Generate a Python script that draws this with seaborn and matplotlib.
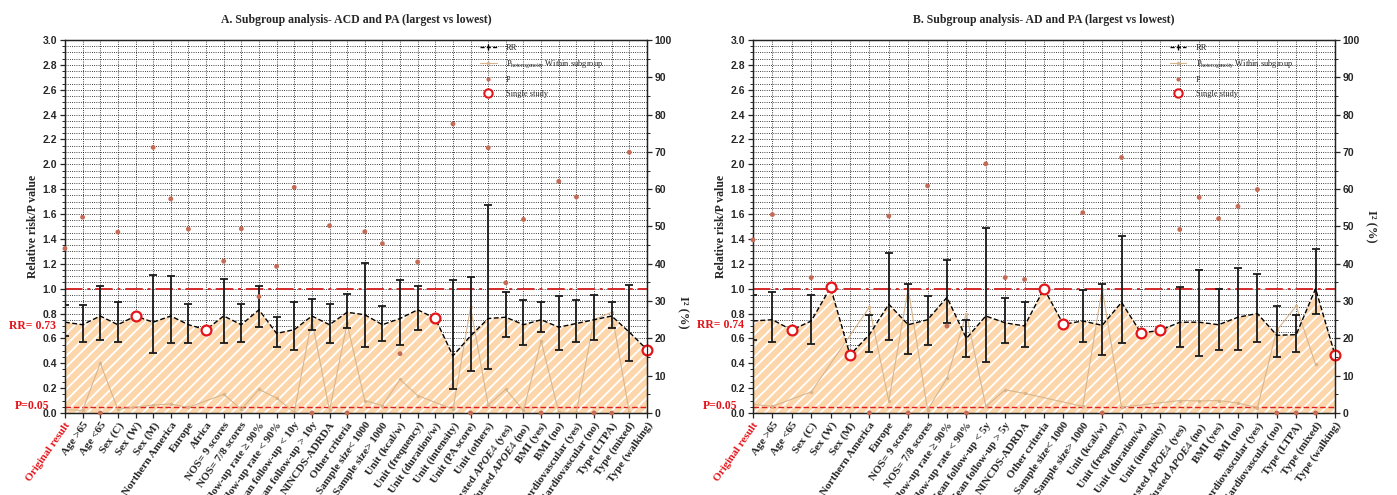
import matplotlib
matplotlib.use('Agg')
import matplotlib.pyplot as plt
import matplotlib.ticker as mticker
import matplotlib.transforms as mtrans
from matplotlib.lines import Line2D
import seaborn as sns
import numpy as np
import pandas as pd

sns.set_style('ticks')
plt.rcParams['font.family'] = ['Liberation Serif', 'DejaVu Serif']
plt.rcParams['mathtext.fontset'] = 'custom'
plt.rcParams['mathtext.rm'] = 'Liberation Serif'
plt.rcParams['mathtext.it'] = 'Liberation Serif:italic:bold'
plt.rcParams['hatch.linewidth'] = 1.3

nan = np.nan

# ---- Panel A: ACD and PA ----
labels_a = ['Original result', 'Age >65', 'Age <65', 'Sex (C)', 'Sex (W)', 'Sex (M)',
            'Northern America', 'Europe', 'Africa', 'NOS= 9 scores', 'NOS= 7/8 scores',
            'Follow-up rate ≥ 90%', 'Follow-up rate < 90%', 'Mean follow-up < 10y',
            'Mean follow-up > 10y', 'NINCDS-ADRDA', 'Other criteria', 'Sample size< 1000',
            'Sample size> 1000', 'Unit (kcal/w)', 'Unit (frequency)', 'Unit (duration/w)',
            'Unit (intensity)', 'Unit (PA score)', 'Unit (others)',
            'Adjusted $\\mathit{APOE4}$ (yes)', 'Adjusted $\\mathit{APOE4}$ (no)',
            'BMI (yes)', 'BMI (no)', 'Cardiovascular (yes)', 'Cardiovascular (no)',
            'Type (LTPA)', 'Type (mixed)', 'Type (walking)']
rr_a = [0.73, 0.71, 0.78, 0.71, 0.78, 0.73, 0.78, 0.71, 0.67, 0.78, 0.71, 0.83, 0.64, 0.67,
        0.78, 0.71, 0.81, 0.79, 0.71, 0.76, 0.83, 0.76, 0.46, 0.62, 0.76, 0.77, 0.71, 0.75,
        0.69, 0.72, 0.75, 0.78, 0.65, 0.51]
lo_a = [0.62, 0.57, 0.59, 0.57, nan, 0.48, 0.56, 0.56, nan, 0.56, 0.57, 0.69, 0.53, 0.51,
        0.67, 0.56, 0.68, 0.53, 0.58, 0.55, 0.67, nan, 0.19, 0.34, 0.35, 0.61, 0.55, 0.65,
        0.51, 0.57, 0.59, 0.68, 0.42, nan]
hi_a = [0.87, 0.87, 1.02, 0.89, nan, 1.11, 1.10, 0.88, nan, 1.08, 0.88, 1.02, 0.77, 0.89,
        0.92, 0.88, 0.955, 1.21, 0.86, 1.07, 1.02, nan, 1.07, 1.09, 1.67, 0.97, 0.91, 0.89,
        0.94, 0.91, 0.95, 0.89, 1.03, nan]
p_a = [0.027, 0.02, 0.40, 0.03, nan, 0.064, 0.072, 0.045, nan, 0.15, 0.03, 0.19, 0.12, 0.005,
       0.75, 0.02, 0.72, 0.10, 0.06, 0.27, 0.14, nan, 0.03, 0.85, 0.064, 0.19, 0.02, 0.58,
       0.005, 0.005, 0.75, 0.81, 0.005, nan]
i2_a = [44.1, 52.5, 0, 48.5, nan, 71.2, 57.4, 49.3, nan, 40.7, 49.4, 31.2, 39.3, 60.5, 0, 50.2,
        0, 48.6, 45.4, 15.9, 40.5, nan, 77.5, 0, 71.1, 34.9, 51.9, 0, 62.1, 57.9, 0, 0, 69.9, nan]

# ---- Panel B: AD and PA ----
labels_b = ['Original result', 'Age >65', 'Age <65', 'Sex (C)', 'Sex (W)', 'Sex (M)',
            'Northern America', 'Europe', 'NOS= 9 scores', 'NOS= 7/8 scores',
            'Follow-up rate ≥ 90%', 'Follow-up rate < 90%', 'Mean follow-up < 5y',
            'Mean follow-up > 5y', 'NINCDS-ADRDA', 'Other criteria', 'Sample size< 1000',
            'Sample size> 1000', 'Unit (kcal/w)', 'Unit (frequency)', 'Unit (duration/w)',
            'Unit (intensity)', 'Adjusted $\\mathit{APOE4}$ (yes)', 'Adjusted $\\mathit{APOE4}$ (no)',
            'BMI (yes)', 'BMI (no)', 'Cardiovascular (yes)', 'Cardiovascular (no)',
            'Type (LTPA)', 'Type (mixed)', 'Type (walking)']
rr_b = [0.74, 0.75, 0.667, 0.74, 1.01, 0.467, 0.63, 0.875, 0.71, 0.75, 0.93, 0.60, 0.78, 0.725,
        0.70, 1.0, 0.713, 0.74, 0.705, 0.89, 0.643, 0.665, 0.73, 0.73, 0.71, 0.77, 0.80, 0.625,
        0.63, 1.0, 0.467]
lo_b = [0.587, 0.57, nan, 0.555, nan, nan, 0.49, 0.59, 0.475, 0.547, 0.72, 0.45, 0.41, 0.565,
        0.53, nan, nan, 0.57, 0.47, 0.56, nan, nan, 0.53, 0.46, 0.51, 0.51, 0.57, 0.45, 0.49,
        0.80, nan]
hi_b = [0.947, 0.97, nan, 0.947, nan, nan, 0.79, 1.29, 1.04, 0.94, 1.23, 0.75, 1.49, 0.925,
        0.89, nan, nan, 0.987, 1.04, 1.42, nan, nan, 1.01, 1.15, 0.995, 1.17, 1.12, 0.86, 0.79,
        1.32, nan]
p_b = [0.07, 0.053, nan, 0.17, nan, nan, 0.85, 0.097, 1.0, 0.025, 0.28, 0.80, 0.053, 0.186,
       0.158, nan, nan, 0.053, 1.0, 0.047, nan, nan, 0.10, 0.097, 0.10, 0.08, 0.042, 0.665,
       0.86, 0.39, nan]
i2_b = [46.4, 53.2, nan, 36.3, nan, nan, 0, 52.8, 0, 60.9, 23.3, 0, 66.8, 36.3, 35.8, nan, nan,
        53.7, 0, 68.5, nan, nan, 49.2, 57.8, 52.1, 55.4, 59.9, 0, 0, 0, nan]

RED = '#e3151a'
TAN = '#d9b58c'
BROWN = '#c46a55'
FILL = '#fdd7ab'


def style_ticklabels(labels, size):
    for t in labels:
        t.set_fontfamily('Liberation Sans')
        t.set_fontweight('bold')
        t.set_fontsize(size)


def draw_panel(ax, title, labels, rr, lo, hi, p, i2, rr_note, legend_x, i2_label_y):
    n = len(labels)
    df = pd.DataFrame({'pos': np.arange(n), 'rr': rr, 'lo': lo, 'hi': hi, 'p': p, 'i2': i2})
    df['single'] = df['lo'].isna()

    # area under pooled RR
    ax.fill_between(df['pos'], 0, df['rr'], facecolor=FILL, edgecolor='white',
                    hatch='///', linewidth=0, zorder=1)
    ax.axhline(1.0, color='#d42a2a', linewidth=1.4, linestyle=(0, (9, 2.5, 1.5, 2.5)), zorder=2)
    ax.axhline(0.05, color='#e02020', linewidth=1.0, linestyle=(0, (4, 2)), zorder=2)

    # P heterogeneity
    sns.lineplot(data=df.dropna(subset=['p']), x='pos', y='p', ax=ax, color=TAN,
                 linewidth=0.8, marker='o', markersize=2.5, markeredgewidth=0, zorder=3)

    # RR with CI
    err = df[~df['single']]
    ax.errorbar(err['pos'], err['rr'], yerr=[err['rr'] - err['lo'], err['hi'] - err['rr']],
                fmt='none', ecolor='#1a1a1a', elinewidth=1.3, capsize=3, capthick=1.3, zorder=4)
    sns.lineplot(data=df, x='pos', y='rr', ax=ax, color='black', linewidth=1.0,
                 linestyle=(0, (3.5, 1.8)), zorder=5)
    sns.scatterplot(data=df[df['single']], x='pos', y='rr', ax=ax, s=50, color='white',
                    edgecolor=RED, linewidth=1.6, zorder=6, clip_on=False)

    # I2 on the right axis
    ax2 = ax.twinx()
    sns.scatterplot(data=df.dropna(subset=['i2']), x='pos', y='i2', ax=ax2, s=12,
                    color=BROWN, edgecolor='none', zorder=3, clip_on=False)

    ax.set_xlim(0, n - 1)
    ax.set_ylim(0, 3)
    ax2.set_ylim(0, 100)

    ax.set_xticks(df['pos'])
    ax.set_xticklabels(labels, rotation=55, ha='right', rotation_mode='anchor',
                       fontsize=8, fontweight='bold')
    ax.get_xticklabels()[0].set_color(RED)
    ax.yaxis.set_major_locator(mticker.MultipleLocator(0.2))
    ax.yaxis.set_minor_locator(mticker.MultipleLocator(0.05))
    ax.yaxis.set_major_formatter(mticker.FormatStrFormatter('%.1f'))
    ax2.yaxis.set_major_locator(mticker.MultipleLocator(10))
    ax2.yaxis.set_minor_locator(mticker.MultipleLocator(5))
    style_ticklabels(ax.get_yticklabels(), 7.5)
    style_ticklabels(ax2.get_yticklabels(), 7.5)

    for a in (ax, ax2):
        a.tick_params(which='major', length=3.5, width=0.9, direction='out', pad=2)
        a.tick_params(which='minor', length=2, width=0.7, direction='out')
        for s in a.spines.values():
            s.set_linewidth(0.9)
            s.set_color('#222222')

    ax.grid(True, which='major', axis='x', color='black', linestyle=':', linewidth=0.6)
    ax.grid(True, which='both', axis='y', color='black', linestyle=':', linewidth=0.6)
    ax.set_axisbelow(True)

    ax.set_xlabel('')
    ax.set_ylabel('Relative risk/P value', fontsize=8.5, fontweight='bold', labelpad=3)
    ax2.set_xlabel('')
    ax2.set_ylabel('I² (%)', rotation=270, fontsize=9, fontweight='bold', va='center')
    ax2.yaxis.set_label_coords(1.062, i2_label_y)
    ax.set_title(title, fontsize=8.5, fontweight='bold', pad=12)

    tr = mtrans.blended_transform_factory(ax.transAxes, ax.transData)
    ax.text(-0.015, rr[0] - 0.03, rr_note, transform=tr, ha='right', va='center',
            color=RED, fontsize=8.5, fontweight='bold')
    ax.text(-0.027, 0.06, 'P=0.05', transform=tr, ha='right', va='center',
            color=RED, fontsize=8.5, fontweight='bold')

    handles = [
        (Line2D([], [], color='black', linestyle=(0, (3, 1.5)), linewidth=1.0),
         Line2D([], [], color='black', marker='|', linestyle='none', markersize=5, markeredgewidth=1)),
        Line2D([], [], color=TAN, linewidth=0.8, marker='o', markersize=2.5, markeredgewidth=0),
        Line2D([], [], color=BROWN, marker='o', linestyle='none', markersize=3, markeredgewidth=0),
        Line2D([], [], marker='o', linestyle='none', markersize=6, markerfacecolor='white',
               markeredgecolor=RED, markeredgewidth=1.5),
    ]
    names = ['RR', 'P$_{\\rm heterogeneity}$ Within subgroup', 'I²', 'Single study']
    ax2.legend(handles, names, loc='upper left', bbox_to_anchor=(legend_x, 0.99), frameon=False,
               fontsize=6, handlelength=2.0, handletextpad=1.1, labelspacing=0.75,
               borderpad=0, borderaxespad=0)


fig = plt.figure(figsize=(13.97, 4.95), dpi=100)
ax_a = fig.add_axes([0.0465, 0.1657, 0.4166, 0.7535])
ax_b = fig.add_axes([0.5390, 0.1657, 0.4166, 0.7535])

draw_panel(ax_a, 'A. Subgroup analysis- ACD and PA (largest vs lowest)', labels_a, rr_a, lo_a,
           hi_a, p_a, i2_a, 'RR= 0.73', 0.713, 0.27)
draw_panel(ax_b, 'B. Subgroup analysis- AD and PA (largest vs lowest)', labels_b, rr_b, lo_b,
           hi_b, p_b, i2_b, 'RR= 0.74', 0.716, 0.5)

fig.savefig('out.png', dpi=100)
plt.close(fig)
